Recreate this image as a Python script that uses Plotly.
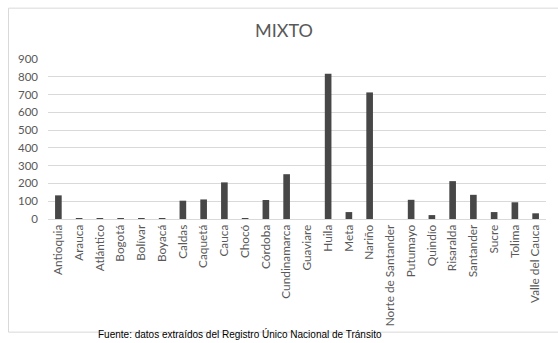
import plotly.graph_objects as go

categories = ["Antioquia", "Arauca", "Atlántico", "Bogotá", "Bolívar", "Boyacá", "Caldas",
              "Caquetá", "Cauca", "Chocó", "Córdoba", "Cundinamarca", "Guaviare", "Huila",
              "Meta", "Nariño", "Norte de Santander", "Putumayo", "Quindío", "Risaralda",
              "Santander", "Sucre", "Tolima", "Valle del Cauca"]
values = [133, 1, 1, 1, 2, 4, 103, 110, 206, 2, 107, 252, 0, 817, 39, 712, 0, 108, 22, 213,
          136, 39, 94, 32]
y_ticks = [0, 100, 200, 300, 400, 500, 600, 700, 800, 900]

W, H = 558, 343
L, R, T, B = 48, 12, 58.5, 124
pw, ph = W - L - R, H - T - B

def px_x(x):
    return (x - L) / pw

def px_y(y):
    return (H - B - y) / ph

fig = go.Figure(go.Bar(x=categories, y=values, marker=dict(color="#474747", line=dict(width=0))))

fig.update_layout(
    width=W, height=H,
    margin=dict(l=L, r=R, t=T, b=B),
    paper_bgcolor="white", plot_bgcolor="white",
    bargap=0.68,
    showlegend=False,
    font=dict(family="Lato, Calibri, sans-serif", color="#595959", size=11),
    title=dict(text="MIXTO", x=px_x(284), xanchor="center", xref="paper",
               y=1 - 31 / H, yanchor="middle", yref="container",
               font=dict(size=18, color="#595959")),
    xaxis=dict(tickangle=-90, showgrid=False, showline=True, linecolor="#d9d9d9",
               ticks="", tickfont=dict(size=11.8, color="#595959"), fixedrange=True),
    yaxis=dict(range=[0, 900], tickvals=y_ticks, showgrid=True, gridcolor="#d9d9d9",
               zeroline=False, showline=False, ticks="", ticklabelstandoff=9,
               tickfont=dict(size=11.5, color="#595959")),
    shapes=[dict(type="rect", xref="paper", yref="paper",
                 x0=px_x(8.5), x1=px_x(562), y0=px_y(332.5), y1=px_y(7.5),
                 line=dict(color="#d9d9d9", width=1), layer="below")],
    annotations=[dict(text="Fuente: datos extraídos del Registro Único Nacional de Tránsito",
                      xref="paper", yref="paper", x=px_x(240), y=px_y(342.5),
                      xanchor="center", yanchor="bottom", showarrow=False,
                      font=dict(family="Liberation Sans, Arial, sans-serif", size=10, color="#000000"))],
)

fig.write_html("out.html")
